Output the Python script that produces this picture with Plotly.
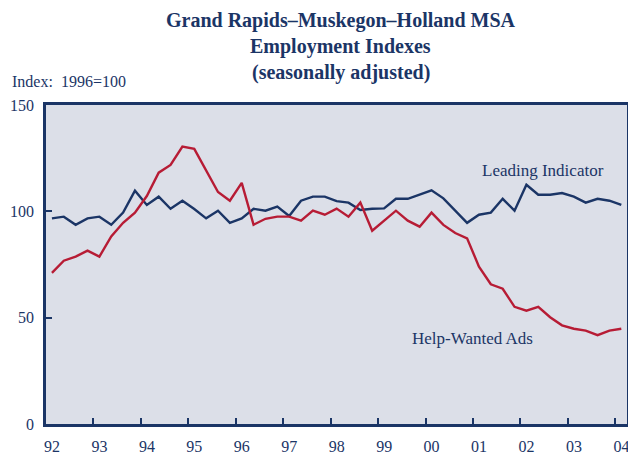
import plotly.graph_objects as go

# Quarterly observations, Q1 1992 .. Q1 2004 (plotted at mid-quarter)
start_year = 1992
n_quarters = 49
leading_indicator = [
    96.7, 97.5, 93.7, 96.7, 97.5, 93.7, 99.4, 109.7, 103.0, 106.9,
    101.2, 105.0, 101.1, 96.7, 100.3, 94.6, 96.7, 101.2, 100.3, 102.2,
    97.8, 105.0, 106.9, 106.9, 104.8, 104.1, 100.6, 101.2, 101.4, 105.9,
    105.9, 108.0, 109.9, 106.1, 100.3, 94.6, 98.4, 99.4, 105.9, 100.3,
    112.5, 107.8, 107.8, 108.6, 106.9, 104.1, 105.9, 105.0, 103.0,
]
help_wanted = [
    71.1, 76.8, 78.7, 81.5, 78.7, 88.2, 94.6, 99.4, 107.2, 118.2,
    121.8, 130.4, 129.4, 119.4, 109.1, 105.0, 113.4, 93.7, 96.5, 97.5,
    97.5, 95.6, 100.3, 98.4, 101.3, 97.5, 104.1, 90.9, 95.4, 100.3,
    95.6, 92.8, 99.4, 93.6, 89.8, 87.3, 74.0, 65.7, 63.6, 55.1,
    53.3, 55.1, 50.2, 46.4, 44.8, 43.9, 41.8, 43.9, 44.8,
]
tick_years = list(range(1992, 2005))
tick_labels = ["92", "93", "94", "95", "96", "97", "98", "99",
               "00", "01", "02", "03", "04"]

x = [start_year + 0.125 + 0.25 * i for i in range(n_quarters)]

NAVY = "#1b3566"
RED = "#b71c35"
BG = "#dcdfe8"
FONT = "Liberation Serif"

# page body has an 8px default margin, so the figure is offset by 8px
fig = go.Figure()
fig.add_trace(go.Scatter(x=x, y=leading_indicator, mode="lines",
                         line=dict(color=NAVY, width=2.4), name="Leading Indicator"))
fig.add_trace(go.Scatter(x=x, y=help_wanted, mode="lines",
                         line=dict(color=RED, width=2.4), name="Help-Wanted Ads"))

fig.update_layout(
    width=628, height=447,
    margin=dict(l=38, r=9, t=97, b=31, autoexpand=False),
    paper_bgcolor="white",
    plot_bgcolor=BG,
    showlegend=False,
    font=dict(family=FONT, color=NAVY, size=16),
)
fig.update_xaxes(
    range=[1992, 2004.245], automargin=False,
    tickvals=tick_years, ticktext=tick_labels,
    ticks="inside", ticklen=6, tickwidth=2, tickcolor=NAVY,
    showline=True, linecolor=NAVY, linewidth=2.5, mirror=True,
    showgrid=False, zeroline=False,
    ticklabelshift=6, ticklabelstandoff=6,
    tickfont=dict(family=FONT, size=16, color=NAVY),
)
fig.update_yaxes(
    range=[0, 150], automargin=False,
    tickvals=[0, 50, 100, 150],
    ticks="inside", ticklen=6, tickwidth=2, tickcolor=NAVY,
    showline=True, linecolor=NAVY, linewidth=2.5, mirror=True,
    showgrid=False, zeroline=False,
    ticklabelstandoff=6,
    tickfont=dict(family=FONT, size=16, color=NAVY),
)

title_lines = ["Grand Rapids\u2013Muskegon\u2013Holland MSA",
               "Employment Indexes", "(seasonally adjusted)"]
title_y = [20, 46, 72]
for txt, yy in zip(title_lines, title_y):
    fig.add_annotation(text="<b>" + txt + "</b>", xref="paper", yref="paper",
                       x=(341 - 46) / 581.6, y=1 + (105 - yy) / 319,
                       xanchor="center", yanchor="middle", showarrow=False,
                       font=dict(family=FONT, size=20, color=NAVY))

fig.add_annotation(text="Index:  1996=100", xref="paper", yref="paper",
                   x=(10 - 46) / 581.6, y=1 + (105 - 82) / 319,
                   xanchor="left", yanchor="middle", showarrow=False,
                   font=dict(family=FONT, size=16, color=NAVY))
fig.add_annotation(text="Leading Indicator", x=2001.15, y=119,
                   xanchor="left", yanchor="middle", showarrow=False,
                   font=dict(family=FONT, size=17, color=NAVY))
fig.add_annotation(text="Help-Wanted Ads", x=1999.68, y=40.2,
                   xanchor="left", yanchor="middle", showarrow=False,
                   font=dict(family=FONT, size=17, color=NAVY))

fig.write_html("out.html")
